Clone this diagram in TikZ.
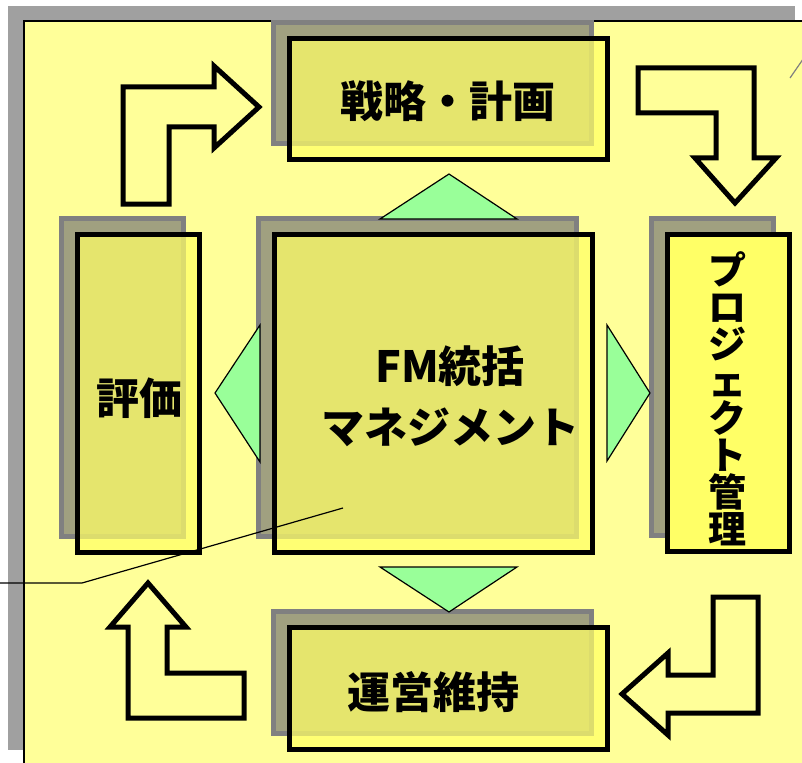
\documentclass[tikz,border=0pt]{standalone}
\usepackage{fontspec}
\setmainfont{Noto Sans CJK JP}

\definecolor{panelyellow}{RGB}{255,255,153}
\definecolor{stageyellow}{RGB}{255,255,102}
\definecolor{shadowfill}{RGB}{160,160,128}
\definecolor{shadowline}{RGB}{128,128,128}
\definecolor{framegray}{RGB}{160,160,160}
\definecolor{pointergreen}{RGB}{153,255,153}

\newcommand\columnfont{\bfseries\fontsize{38}{37}\selectfont\lineskiplimit=-50pt\relax}

\tikzset{
  shadowbox/.style={draw=shadowline, line width=5pt, fill=shadowfill, inner sep=0pt},
  stagebox/.style={draw=black, line width=5pt, fill=stageyellow, fill opacity=0.73, inner sep=0pt},
  stagetext/.style={font=\bfseries\fontsize{43}{61}\selectfont, align=center, inner sep=0pt},
  turnarrow/.style={draw=black, line width=5pt, fill=panelyellow, line join=miter},
  pointer/.style={draw=black, line width=1.2pt, fill=pointergreen, line join=miter}
}

\begin{document}
\begin{tikzpicture}[x=1pt, y=-1pt]
    \useasboundingbox (0,0) rectangle (802,762);

    % background panel
    \fill[framegray] (8,6) rectangle (795,750);
    \draw[fill=panelyellow, line width=1.5pt] (24,21) rectangle (820,780);

    % shadows
    \node[shadowbox, minimum width=318pt, minimum height=121pt] (planshadow) at (432.5,83) {};
    \node[shadowbox, minimum width=122pt, minimum height=318pt] (reviewshadow) at (122.5,377.5) {};
    \node[shadowbox, minimum width=318pt, minimum height=318pt] (coreshadow) at (417.5,377.5) {};
    \node[shadowbox, minimum width=122pt, minimum height=317pt] (projectshadow) at (712.5,377) {};
    \node[shadowbox, minimum width=318pt, minimum height=122pt] (operateshadow) at (432.5,672.5) {};

    % boxes
    \node[stagebox, minimum width=318pt, minimum height=121pt] (plan) at (448.5,99) {};
    \node[stagebox, minimum width=122pt, minimum height=318pt] (review) at (138.5,393.5) {};
    \node[stagebox, minimum width=318pt, minimum height=318pt] (core) at (433.5,393.5) {};
    \node[stagebox, fill opacity=1, minimum width=122pt, minimum height=317pt] (project) at (728.5,393) {};
    \node[stagebox, minimum width=318pt, minimum height=122pt] (operate) at (448.5,688.5) {};

    % labels
    \node[stagetext] (plantext) at (448,101) {戦略・計画};
    \node[stagetext] (reviewtext) at (139,398) {評価};
    \node[stagetext] (coretext) at (450,396) {FM統括\\マネジメント};
    \node[stagetext, font=\columnfont] (projecttext) at (727,399)
        {プ\\ロ\\ジ\\ェ\\ク\\ト\\管\\理};
    \node[stagetext] (operatetext) at (433,692) {運営維持};

    % green pointers
    \draw[pointer] (380,219) -- (517,219) -- (449,174) -- cycle;
    \draw[pointer] (380,567) -- (517,567) -- (449,612) -- cycle;
    \draw[pointer] (260,325) -- (260,462) -- (215,393) -- cycle;
    \draw[pointer] (607,325) -- (607,461) -- (650,393) -- cycle;

    % bent arrows
    \draw[turnarrow] (123,204) -- (123,87) -- (214,87) -- (214,66) -- (259,107)
        -- (214,148) -- (214,127) -- (169,127) -- (169,204) -- cycle;
    \draw[turnarrow] (638,68) -- (754,68) -- (754,158) -- (776,158) -- (735,203)
        -- (695,158) -- (716,158) -- (716,113) -- (638,113) -- cycle;
    \draw[turnarrow] (758,597) -- (758,713) -- (668,713) -- (668,735) -- (622,694)
        -- (668,653) -- (668,675) -- (713,675) -- (713,597) -- cycle;
    \draw[turnarrow] (128,718) -- (244,718) -- (244,673) -- (167,673) -- (167,627)
        -- (186,627) -- (148,583) -- (110,627) -- (128,627) -- cycle;

    % callout lines
    \coordinate (calloutfoot) at (-5,583);
    \coordinate (calloutknee) at (82,583);
    \coordinate (callouttip) at (343,508);
    \draw[line width=1.2pt] (calloutfoot) -- (calloutknee) -- (callouttip);
    \coordinate (edgefoot) at (790,78);
    \coordinate (edgetip) at (808,52);
    \draw[shadowline, line width=1.2pt] (edgefoot) -- (edgetip);
\end{tikzpicture}
\end{document}
